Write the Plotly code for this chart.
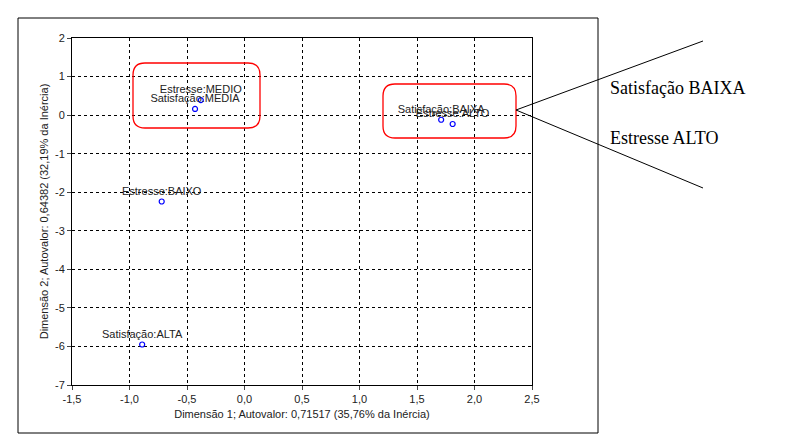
import plotly.graph_objects as go

labels = ["Estresse:MEDIO", "Satisfação:MEDIA", "Estresse:BAIXO", "Satisfação:ALTA", "Satisfação:BAIXA", "Estresse:ALTO"]
dim1 = [-0.38, -0.43, -0.72, -0.89, 1.71, 1.81]
dim2 = [0.39, 0.16, -2.24, -5.95, -0.12, -0.23]
xticks = [-1.5, -1.0, -0.5, 0.0, 0.5, 1.0, 1.5, 2.0, 2.5]
yticks = [2, 1, 0, -1, -2, -3, -4, -5, -6, -7]

L, R, T, B = 64, 261, 30, 64
W, H = 785, 441
pw, ph = W - L - R, H - T - B
def px(x): return (x - L) / pw
def py(y): return (H - B - y) / ph

fig = go.Figure(go.Scatter(
    x=dim1, y=dim2, mode="markers+text", text=labels, textposition="top center",
    textfont=dict(family="Arial", size=11, color="#222"),
    marker=dict(symbol="circle-open", size=5, color="#0000ff", line=dict(width=1.2)),
    cliponaxis=False))

def rrect(x0, y0, x1, y1, r):
    pts = f"M {px(x0+r)} {py(y0)} L {px(x1-r)} {py(y0)} Q {px(x1)} {py(y0)} {px(x1)} {py(y0+r)} " \
          f"L {px(x1)} {py(y1-r)} Q {px(x1)} {py(y1)} {px(x1-r)} {py(y1)} L {px(x0+r)} {py(y1)} " \
          f"Q {px(x0)} {py(y1)} {px(x0)} {py(y1-r)} L {px(x0)} {py(y0+r)} Q {px(x0)} {py(y0)} {px(x0+r)} {py(y0)} Z"
    return dict(type="path", xref="paper", yref="paper", path=pts, line=dict(color="red", width=1.3))

shapes = [
    rrect(125, 55, 252, 120, 12),
    rrect(375, 76, 508, 130, 12),
    dict(type="line", xref="paper", yref="paper", x0=px(508), y0=py(102), x1=px(695), y1=py(33), line=dict(color="black", width=1)),
    dict(type="line", xref="paper", yref="paper", x0=px(508), y0=py(102), x1=px(695), y1=py(180), line=dict(color="black", width=1)),
    dict(type="rect", xref="paper", yref="paper", x0=px(10), y0=py(10), x1=px(590), y1=py(425), line=dict(color="black", width=1)),
]

fig.update_layout(
    width=W, height=H, margin=dict(l=L, r=R, t=T, b=B, autoexpand=False),
    paper_bgcolor="white", plot_bgcolor="white", showlegend=False,
    font=dict(family="Arial", size=11, color="#222"), shapes=shapes,
    annotations=[
        dict(xref="paper", yref="paper", x=px(600), y=py(80), text="Satisfação BAIXA", showarrow=False,
             xanchor="left", yanchor="middle", font=dict(family="Liberation Serif", size=18, color="black")),
        dict(xref="paper", yref="paper", x=px(600), y=py(130), text="Estresse ALTO", showarrow=False,
             xanchor="left", yanchor="middle", font=dict(family="Liberation Serif", size=18, color="black")),
    ],
    xaxis=dict(range=[-1.5, 2.5], tickvals=xticks, ticktext=[f"{v:.1f}".replace(".", ",") for v in xticks],
               showgrid=True, gridcolor="black", griddash="dot", gridwidth=1, zeroline=False,
               showline=True, linecolor="black", mirror=True, ticks="outside", ticklen=4,
               title=dict(text="Dimensão 1; Autovalor: 0,71517 (35,76% da Inércia)", font=dict(size=11), standoff=6)),
    yaxis=dict(range=[-7, 2], tickvals=yticks, ticktext=[str(v) for v in yticks],
               showgrid=True, gridcolor="black", griddash="dot", gridwidth=1, zeroline=False,
               showline=True, linecolor="black", mirror=True, ticks="outside", ticklen=4,
               title=dict(text="Dimensão 2; Autovalor: 0,64382 (32,19% da Inércia)", font=dict(size=11), standoff=4)),
)
fig.write_html("out.html")
